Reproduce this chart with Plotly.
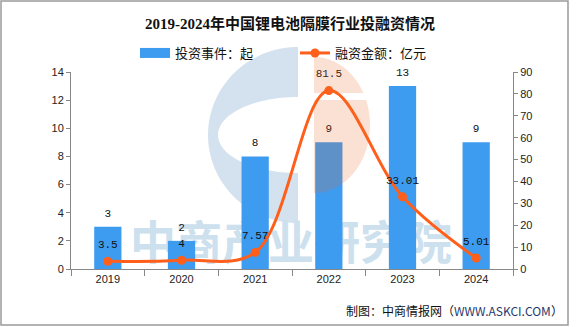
import numpy as np
import plotly.graph_objects as go

# ---------------- data ----------------
years = ["2019", "2020", "2021", "2022", "2023", "2024"]
deals = [3, 2, 8, 9, 13, 9]                      # 投资事件：起
amount = [3.5, 4, 7.57, 81.5, 33.01, 5.01]        # 融资金额：亿元
amount_labels = ["3.5", "4", "7.57", "81.5", "33.01", "5.01"]
left_ticks = [0, 2, 4, 6, 8, 10, 12, 14]
right_ticks = [0, 10, 20, 30, 40, 50, 60, 70, 80, 90]

title_text = "2019-2024年中国锂电池隔膜行业投融资情况"
bar_name = "投资事件：起"
line_name = "融资金额：亿元"
source_text = "制图：中商情报网（<span style='color:#1F3A6E'>WWW.ASKCI.COM</span>）"
watermark = "中商产业研究院"

# ---------------- geometry helpers (styling) ----------------
W, H = 581, 327
PL, PR, PT, PB = 71, 513, 72, 269


def px(x):
    return (x - PL) / (PR - PL)


def py(y):
    return (PB - y) / (PB - PT)


def poly_path(pts):
    return "M" + " L".join(f"{px(a):.4f},{py(b):.4f}" for a, b in pts) + " Z"


BAR_COLOR = "#3D9BF0"
LINE_COLOR = "#FF5F1A"
CJK = "Noto Sans CJK SC"
MONO = "Liberation Mono"

fig = go.Figure()

# watermark text (bottom layer, main hidden axes)
fig.add_trace(go.Scatter(
    x=[px(291)], y=[py(247)], mode="text", text=[watermark],
    textfont=dict(family=CJK, size=46, color="#CCE0EE", weight="bold"),
    hoverinfo="skip", showlegend=False, xaxis="x", yaxis="y"))

# bars
fig.add_trace(go.Bar(
    x=years, y=deals, marker=dict(color=BAR_COLOR, line=dict(width=0)),
    width=0.37, showlegend=False, xaxis="x2", yaxis="y2", hoverinfo="x+y"))

# bar value labels
fig.add_trace(go.Scatter(
    x=years, y=deals, mode="markers+text", text=[str(v) for v in deals],
    textposition="top center", marker=dict(size=10, opacity=0),
    textfont=dict(family=MONO, size=11, color="#111"),
    showlegend=False, xaxis="x2", yaxis="y2", hoverinfo="skip", cliponaxis=False))

# legend entry for bars
fig.add_trace(go.Scatter(
    x=[None], y=[None], mode="lines", name=bar_name,
    line=dict(color=BAR_COLOR, width=10), legend="legend",
    xaxis="x2", yaxis="y2"))

# line
fig.add_trace(go.Scatter(
    x=years, y=amount, mode="lines+markers", name=line_name,
    line=dict(color=LINE_COLOR, width=3, shape="spline", smoothing=1.0),
    marker=dict(color=LINE_COLOR, size=9),
    legend="legend2", xaxis="x2", yaxis="y3", cliponaxis=False))

# line value labels
fig.add_trace(go.Scatter(
    x=years, y=amount, mode="markers+text", text=amount_labels,
    textposition="top center", marker=dict(size=15, opacity=0),
    textfont=dict(family=MONO, size=11, color="#111"),
    showlegend=False, xaxis="x2", yaxis="y3", hoverinfo="skip", cliponaxis=False))

# ---------------- logo shapes ----------------
t = np.linspace(np.pi / 2, 3 * np.pi / 2, 60)
outer = [(298 + 90 * np.cos(a), 135 - 88 * np.sin(a)) for a in t]
inner = [(298 + 80 * np.cos(a), 135 - 38 * np.sin(a)) for a in t[::-1]]
blue_c = poly_path(outer + inner)

cx, cy, rx, ry = 314, 125, 56, 68
ang = np.linspace(-np.pi / 2, np.pi / 2, 80)
half = [(cx + rx * np.cos(a), cy + ry * np.sin(a)) for a in ang]  # top -> bottom
top_part = [(x, y) for x, y in half if y <= 93]
bot_part = [(x, y) for x, y in half if y >= 100]


def x_at(yv):
    return cx + rx * np.sqrt(max(0.0, 1 - ((yv - cy) / ry) ** 2))


top_poly = [(cx, cy - ry)] + top_part + [(x_at(93), 93), (cx, 93)]
bot_poly = [(cx, 100), (x_at(100), 100)] + bot_part + [(cx, cy + ry)]

shapes = [
    dict(type="path", path=blue_c, xref="paper", yref="paper",
         fillcolor="rgba(110,160,200,0.30)", line=dict(width=0), layer="below"),
    dict(type="path", path=poly_path(top_poly), xref="paper", yref="paper",
         fillcolor="rgba(232,104,42,0.20)", line=dict(width=0), layer="above"),
    dict(type="path", path=poly_path(bot_poly), xref="paper", yref="paper",
         fillcolor="rgba(232,104,42,0.20)", line=dict(width=0), layer="above"),
    dict(type="rect", xref="paper", yref="paper",
         x0=px(1), x1=px(568), y0=py(325), y1=py(1),
         line=dict(color="#9A9A9A", width=1.5), fillcolor="rgba(0,0,0,0)",
         layer="above"),
]

axis_common = dict(showline=True, linecolor="#888", linewidth=1, ticks="outside",
                   tickcolor="#888", showgrid=False, zeroline=False,
                   tickfont=dict(family="Liberation Sans", size=11, color="#222"))

fig.update_layout(
    width=W, height=H,
    margin=dict(l=PL, r=W - PR, t=PT, b=H - PB, pad=0),
    paper_bgcolor="white", plot_bgcolor="rgba(0,0,0,0)",
    title=dict(text=title_text, x=290 / W, xanchor="center",
               y=1 - 24 / H, yanchor="middle", yref="container",
               font=dict(family="Liberation Serif, " + CJK, size=15, color="#111", weight="bold")),
    xaxis=dict(range=[0, 1], visible=False, fixedrange=True),
    yaxis=dict(range=[0, 1], visible=False, fixedrange=True),
    xaxis2=dict(overlaying="x", anchor="y2", type="category", categoryorder="array",
                categoryarray=years, tickson="boundaries", ticklen=6, **axis_common),
    yaxis2=dict(overlaying="y", anchor="x2", side="left", range=[0, 14],
                tickvals=left_ticks, ticklen=4, **axis_common),
    yaxis3=dict(overlaying="y", anchor="x2", side="right", range=[0, 90],
                tickvals=right_ticks, ticklen=4, **axis_common),
    legend=dict(orientation="h", x=px(135), xanchor="left", y=py(53), yanchor="middle",
                font=dict(family=CJK, size=13, color="#111"), bgcolor="rgba(0,0,0,0)"),
    legend2=dict(orientation="h", x=px(295), xanchor="left", y=py(53), yanchor="middle",
                 font=dict(family=CJK, size=13, color="#111"), bgcolor="rgba(0,0,0,0)"),
    shapes=shapes,
    annotations=[dict(text=source_text, xref="paper", yref="paper",
                      x=px(565), y=py(310), xanchor="right", yanchor="middle",
                      showarrow=False, font=dict(family=CJK, size=12, color="#111"))],
    bargap=0.5, showlegend=True,
)

fig.write_html("out.html")
